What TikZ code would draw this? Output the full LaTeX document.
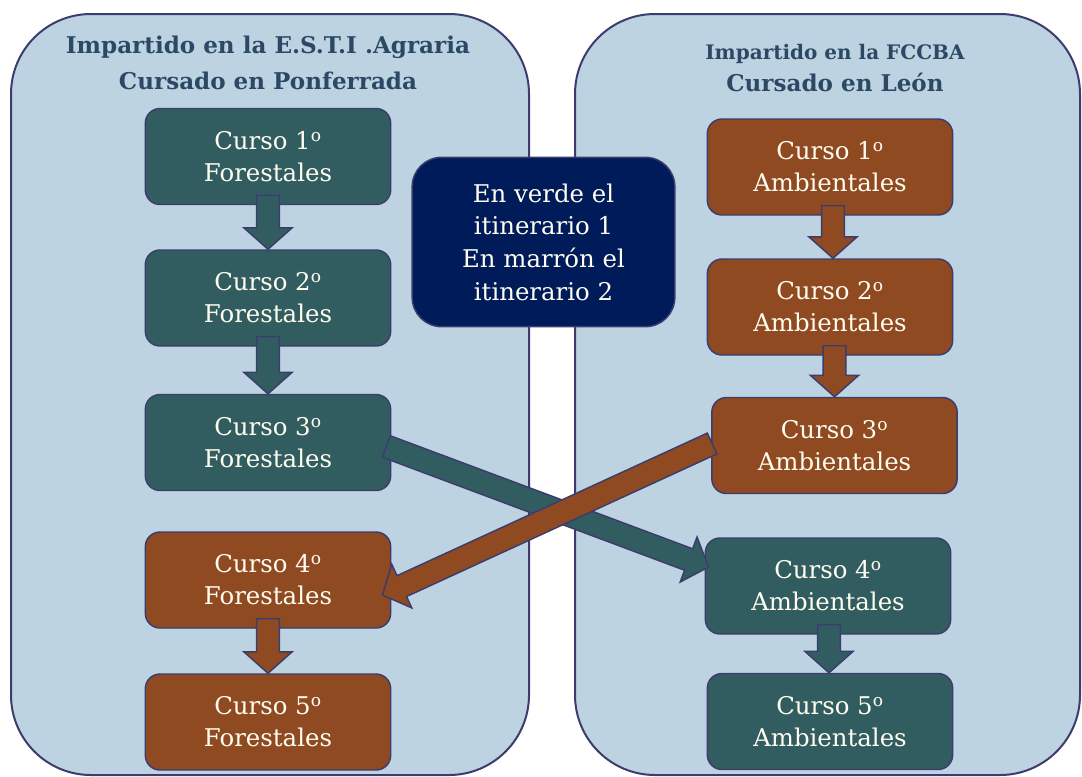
\documentclass[tikz,border=0pt]{standalone}
\usepackage{fontspec}
\setmainfont{DejaVu Serif}
\usetikzlibrary{calc}
\definecolor{panelfill}{HTML}{BED3E1}
\definecolor{bordercol}{HTML}{3C3C6E}
\definecolor{tealc}{HTML}{325D60}
\definecolor{brownc}{HTML}{8F4A22}
\definecolor{navyc}{HTML}{001B5A}
\definecolor{titlec}{HTML}{2B4865}
\definecolor{textc}{HTML}{FFFDF0}
\newcommand\ordo{\textsuperscript{o}}
\newcommand\blockarr[3]{%
  \coordinate (ba-c) at ($(#2)!16pt!(#1)$);
  \filldraw[fill=#3, draw=bordercol, line width=1.1pt, line join=miter]
    ($(#1)!8.6pt!90:(#2)$) -- ($(ba-c)!8.6pt!90:(#2)$) -- ($(ba-c)!18pt!90:(#2)$)
    -- (#2) -- ($(ba-c)!18pt!-90:(#2)$) -- ($(ba-c)!8.6pt!-90:(#2)$)
    -- ($(#1)!8.6pt!-90:(#2)$) -- cycle;}
\begin{document}
\begin{tikzpicture}[x=0.75pt,y=-0.75pt,
  panel/.style={fill=panelfill, draw=bordercol, line width=1.5pt, rounded corners=60pt},
  course/.style={draw=bordercol, line width=1.1pt, rounded corners=11pt,
    minimum width=184pt, minimum height=72pt, text=textc, align=center,
    font=\fontsize{18.3}{24}\selectfont, inner sep=0pt},
  green/.style={course, fill=tealc},
  brown/.style={course, fill=brownc},
  titletext/.style={text=titlec, font=\bfseries\fontsize{17.3}{20}\selectfont, anchor=base, inner sep=0pt},
  titlesmall/.style={titletext, font=\bfseries\fontsize{15}{18}\selectfont}
]
\useasboundingbox (0,0) rectangle (1082,776);
\fill[white] (0,0) rectangle (1082,776);
\draw[panel] (11,14) rectangle (529,775);
\draw[panel] (575,14) rectangle (1080,775);

\node[titletext] (lt1) at (268,53) {Impartido en la E.S.T.I .Agraria};
\node[titletext] (lt2) at (268,89) {Cursado en Ponferrada};
\node[titlesmall] (rt1) at (835,59) {Impartido en la FCCBA};
\node[titletext] (rt2) at (835,91) {Cursado en León};

\node[green] (L1) at (268,156.5) {Curso 1\ordo\\Forestales};
\node[green] (L2) at (268,298) {Curso 2\ordo\\Forestales};
\node[green] (L3) at (268,442.5) {Curso 3\ordo\\Forestales};
\node[brown] (L4) at (268,580) {Curso 4\ordo\\Forestales};
\node[brown] (L5) at (268,722) {Curso 5\ordo\\Forestales};

\node[brown] (R1) at (830,167) {Curso 1\ordo\\Ambientales};
\node[brown] (R2) at (830,307) {Curso 2\ordo\\Ambientales};
\node[brown] (R3) at (834.5,445.5) {Curso 3\ordo\\Ambientales};
\node[green] (R4) at (828,586) {Curso 4\ordo\\Ambientales};
\node[green] (R5) at (830,721.5) {Curso 5\ordo\\Ambientales};

\node[draw=bordercol, line width=1.1pt, fill=navyc, rounded corners=22pt,
  minimum width=197pt, minimum height=127pt, text=textc, align=center,
  font=\fontsize{18.3}{24.5}\selectfont, inner sep=0pt] (M) at (543.5,242)
  {En verde el\\itinerario 1\\En marrón el\\itinerario 2};

\coordinate (a1s) at ($(L1.south)+(0,-10)$);
\blockarr{a1s}{L2.north}{tealc}
\coordinate (a2s) at ($(L2.south)+(0,-10)$);
\blockarr{a2s}{L3.north}{tealc}
\coordinate (a4s) at ($(L4.south)+(0,-10)$);
\blockarr{a4s}{L5.north}{brownc}
\coordinate (b1e) at ($(R2.north)+(3,0)$);
\coordinate (b1s) at ($(R1.south -| b1e)+(0,-10)$);
\blockarr{b1s}{b1e}{brownc}
\coordinate (b2s) at ($(R2.south -| R3.north)+(0,-10)$);
\blockarr{b2s}{R3.north}{brownc}
\coordinate (b4e) at ($(R5.north)+(-1,0)$);
\coordinate (b4s) at ($(R4.south -| b4e)+(0,-10)$);
\blockarr{b4s}{b4e}{tealc}

\coordinate (gs) at ($(L3.east)+(-5,4)$);
\coordinate (ge) at ($(R4.west)+(4,-19)$);
\blockarr{gs}{ge}{tealc}
\coordinate (bs) at ($(R3.west)+(1,-2)$);
\coordinate (be) at ($(L4.east)+(-9,15)$);
\blockarr{bs}{be}{brownc}
\end{tikzpicture}
\end{document}
